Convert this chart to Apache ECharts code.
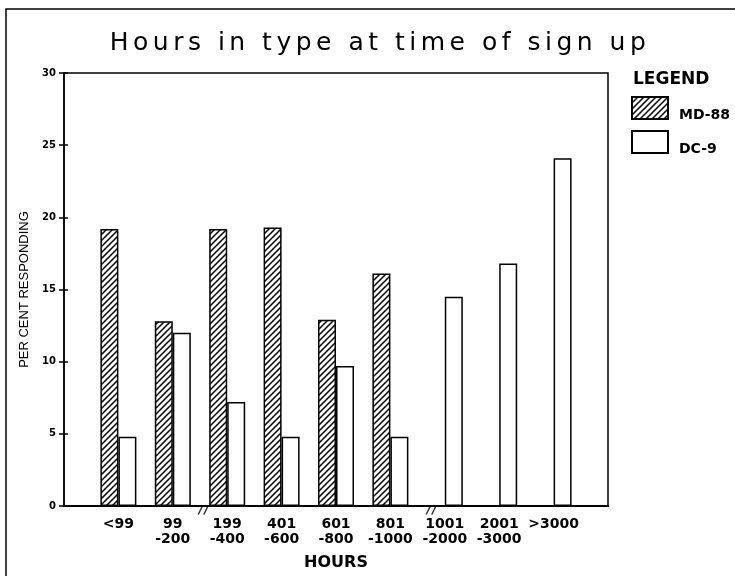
<!DOCTYPE html>
<html><head><meta charset="utf-8">
<script src="https://cdn.jsdelivr.net/npm/echarts@6/dist/echarts.min.js"></script>
<style>html,body{margin:0;padding:0;background:#fff}#c{width:735px;height:576px}</style>
</head><body><div id="c"></div>
<script>
// ---- data ----
const categories = ['<99', '99\n-200', '199\n-400', '401\n-600', '601\n-800', '801\n-1000', '1001\n-2000', '2001\n-3000', '>3000'];
const md88 = [19.2, 12.8, 19.2, 19.3, 12.9, 16.1, null, null, null];
const dc9  = [4.8, 12.0, 7.2, 4.8, 9.7, 4.8, 14.5, 16.8, 24.1];
const yTicks = [0, 5, 10, 15, 20, 25, 30];
const axisBreaks = [2.56, 6.75];   // positions (in category units) of the "//" break marks
const TITLE = 'Hours in type at time of sign up';

// the reference title is drawn in a widely spaced plotter font: add letter spacing to that text only
(function () {
  const proto = CanvasRenderingContext2D.prototype;
  const orig = proto.fillText;
  proto.fillText = function (t, x, y, w) {
    if (t === TITLE && 'letterSpacing' in this) {
      this.save();
      this.letterSpacing = '4.5px';
      const r = w === undefined ? orig.call(this, t, x, y) : orig.call(this, t, x, y, w);
      this.restore();
      return r;
    }
    return w === undefined ? orig.call(this, t, x, y) : orig.call(this, t, x, y, w);
  };
})();

function hatchPattern() {
  const c = document.createElement('canvas');
  c.width = 6; c.height = 6;
  const g = c.getContext('2d');
  g.fillStyle = '#fff'; g.fillRect(0, 0, 6, 6);
  g.strokeStyle = '#000'; g.lineWidth = 1.5;
  g.beginPath();
  g.moveTo(-1, 7); g.lineTo(7, -1);
  g.moveTo(-1, 1); g.lineTo(1, -1);
  g.moveTo(5, 7); g.lineTo(7, 5);
  g.stroke();
  return c;
}

const padCats = [''].concat(categories, [' ']);
const pad = a => [null].concat(a, [null]);
const FONT = 'DejaVu Sans';

const chart = echarts.init(document.getElementById('c'), null, {renderer: 'canvas'});
chart.setOption({
  backgroundColor: '#fff',
  animation: false,
  title: [
    {text: TITLE, left: 375, top: 26, textAlign: 'center',
     textStyle: {fontFamily: FONT, fontSize: 25, fontWeight: 'normal', color: '#000'}},
    {text: 'LEGEND', left: 628, top: 66,
     textStyle: {fontFamily: FONT, fontSize: 17, fontWeight: 'bold', color: '#000'}}
  ],
  legend: {
    data: ['MD-88', 'DC-9'], orient: 'vertical', left: 631, top: 94,
    itemWidth: 36, itemHeight: 22, itemGap: 6, icon: 'rect', selectedMode: false, padding: 0,
    formatter: name => '\n' + name,
    textStyle: {fontFamily: FONT, fontWeight: 'bold', fontSize: 14, lineHeight: 14, color: '#000', padding: [0, 0, 0, 6]}
  },
  grid: {left: 64, right: 127, top: 73, bottom: 69, show: true, borderColor: '#000', borderWidth: 1.5, backgroundColor: 'transparent'},
  xAxis: [
    {type: 'category', data: padCats, boundaryGap: false, position: 'bottom',
     axisLine: {lineStyle: {color: '#000', width: 2}}, axisTick: {show: false},
     axisLabel: {interval: 0, fontFamily: FONT, fontWeight: 'bold', fontSize: 14, lineHeight: 15, margin: 11, color: '#000'},
     splitLine: {show: false},
     name: 'HOURS', nameLocation: 'middle', nameGap: 49,
     nameTextStyle: {fontFamily: FONT, fontWeight: 'bold', fontSize: 16, color: '#000'}},
    {type: 'value', min: 0, max: padCats.length - 1, show: false, position: 'bottom'}
  ],
  yAxis: [
    {type: 'value', min: yTicks[0], max: yTicks[yTicks.length - 1], interval: yTicks[1] - yTicks[0], position: 'left',
     axisLine: {show: true, lineStyle: {color: '#000', width: 1.5}},
     axisTick: {show: true, length: 5, lineStyle: {color: '#000', width: 1.5}},
     axisLabel: {fontFamily: FONT, fontWeight: 'bold', fontSize: 10, color: '#000', margin: 8},
     splitLine: {show: false},
     name: 'PER CENT RESPONDING', nameLocation: 'middle', nameGap: 27, nameRotate: 90,
     nameTextStyle: {fontFamily: 'Liberation Sans', fontSize: 13, color: '#000'}},
    {type: 'value', min: yTicks[0], max: yTicks[yTicks.length - 1], interval: yTicks[1] - yTicks[0], position: 'left',
     axisLine: {show: false}, axisLabel: {show: false}, splitLine: {show: false},
     axisTick: {show: true, inside: true, length: 4, lineStyle: {color: '#000', width: 1.5}}}
  ],
  series: [
    {name: 'MD-88', type: 'bar', data: pad(md88), barWidth: 18, barGap: '0%',
     itemStyle: {color: {image: hatchPattern(), repeat: 'repeat'}, borderColor: '#000', borderWidth: 1.5}},
    {name: 'DC-9', type: 'bar', data: pad(dc9), barWidth: 18, barGap: '0%',
     itemStyle: {color: '#fff', borderColor: '#000', borderWidth: 1.5}},
    {name: 'breaks', type: 'scatter', xAxisIndex: 1, yAxisIndex: 0, clip: false, silent: true,
     data: axisBreaks.map(x => [x, 0]),
     symbol: 'path://M0,10L4,0M5,10L9,0', symbolSize: [10, 9], symbolOffset: [0, 4],
     itemStyle: {color: 'none', borderColor: '#000', borderWidth: 1.4}}
  ],
  graphic: [
    {type: 'rect', silent: true, shape: {x: 6, y: 9, width: 800, height: 700},
     style: {fill: 'none', stroke: '#000', lineWidth: 1.5}}
  ]
});
</script></body></html>
